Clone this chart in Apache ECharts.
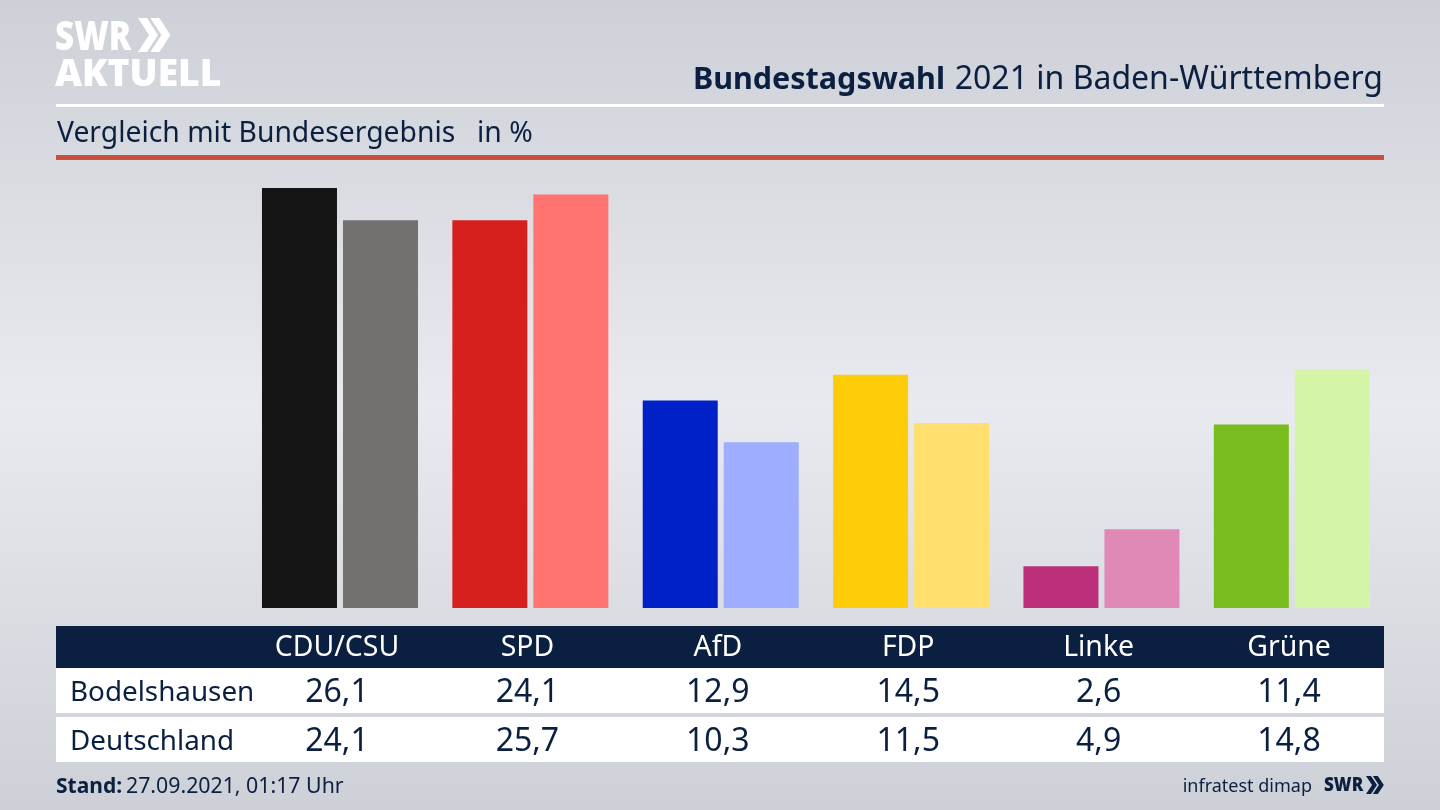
<!DOCTYPE html>
<html>
<head>
<meta charset="utf-8">
<title>Bundestagswahl 2021 in Baden-Württemberg</title>
<style>html,body{margin:0;padding:0;background:#dfe1e6}#main{width:1440px;height:810px}</style>
<script src="https://cdn.jsdelivr.net/npm/echarts@6/dist/echarts.min.js"></script>
</head>
<body>
<div id="main"></div>
<script>
var parties = ['CDU/CSU', 'SPD', 'AfD', 'FDP', 'Linke', 'Grüne'];
var bodelshausen = [26.1, 24.1, 12.9, 14.5, 2.6, 11.4];
var deutschland = [24.1, 25.7, 10.3, 11.5, 4.9, 14.8];
var colorsLocal = ['#141414', '#d61f1f', '#0020c8', '#ffcc0a', '#bc2f7a', '#78bc1e'];
var colorsFederal = ['#72716f', '#ff7370', '#9eadff', '#ffe06e', '#e088b6', '#d4f5a8'];

var navy = '#0b2040';
var font = '"Noto Sans", sans-serif';
var colX = 337, colStep = 190.4;

function txt(x, y, text, size, color, align, weight, scaleX) {
    return {
        type: 'text', x: x, y: y, z: 10, scaleX: scaleX || 1,
        style: {
            text: text, fill: color, font: (weight || 'normal') + ' ' + size + 'px ' + font,
            textAlign: align || 'left', textVerticalAlign: 'middle'
        }
    };
}
function box(x, y, w, h, color) {
    return { type: 'rect', z: 5, shape: { x: x, y: y, width: w, height: h }, style: { fill: color } };
}
function comma(v) { return v.toFixed(1).replace('.', ','); }
function chevrons(x, y, w, h, color) {
    // zwei Pfeile vom SWR-Logo
    var out = [];
    var t = w * 0.45;
    [0, w * 0.62].forEach(function (dx) {
        out.push({
            type: 'polygon', z: 10,
            shape: { points: [[x + dx, y], [x + dx + t, y], [x + dx + w, y + h / 2], [x + dx + t, y + h], [x + dx, y + h], [x + dx + w - t, y + h / 2]] },
            style: { fill: color }
        });
    });
    return out;
}

var graphics = [
    box(56, 104, 1328, 3, '#ffffff'),
    box(56, 155, 1328, 5, '#c8503c'),
    box(56, 626, 1328, 42, navy),
    box(56, 668, 1328, 45, '#ffffff'),
    box(56, 717, 1328, 45, '#ffffff'),
    txt(55, 38, 'SWR', 41, '#ffffff', 'left', '900', 0.81),
    txt(55, 75, 'AKTUELL', 37.2, '#ffffff', 'left', '900'),
    txt(1383, 80, '2021 in Baden-Württemberg', 32, navy, 'right'),
    txt(945, 80, 'Bundestagswahl', 30.5, navy, 'right', 'bold'),
    txt(57, 134, 'Vergleich mit Bundesergebnis', 28.3, navy),
    txt(477, 134, 'in %', 28.3, navy),
    txt(70, 693, 'Bodelshausen', 27.8, navy),
    txt(70, 742, 'Deutschland', 27.8, navy),
    txt(56, 787, 'Stand:', 21, navy, 'left', 'bold'),
    txt(126, 787, '27.09.2021, 01:17 Uhr', 21.3, navy),
    txt(1312, 787, 'infratest dimap', 18, navy, 'right'),
    txt(1324, 786, 'SWR', 19, navy, 'left', '900', 0.9)
].concat(chevrons(138, 18, 20, 34, '#ffffff'), chevrons(1366, 776, 11, 18, navy));

parties.forEach(function (name, i) {
    var x = colX + i * colStep;
    graphics.push(txt(x, 648, name, 28.4, '#ffffff', 'center'));
    graphics.push(txt(x, 693, comma(bodelshausen[i]), 32, navy, 'center'));
    graphics.push(txt(x, 742, comma(deutschland[i]), 32, navy, 'center'));
});

function itemsOf(values, colors) {
    return values.map(function (v, i) {
        return { value: v, itemStyle: { color: colors[i] } };
    });
}

var myChart = echarts.init(document.getElementById('main'));
var option = {
    animation: false,
    backgroundColor: new echarts.graphic.LinearGradient(0, 0, 0, 1, [
        { offset: 0, color: '#cdd0d7' },
        { offset: 0.5, color: '#e9eaef' },
        { offset: 1, color: '#cdd0d7' }
    ]),
    grid: { left: 244.8, right: 53, top: 173.5, bottom: 202 },
    xAxis: { type: 'category', data: parties, show: false },
    yAxis: { type: 'value', min: 0, max: 27, show: false },
    series: [
        { name: 'Bodelshausen', type: 'bar', barWidth: 75, barGap: '8%', data: itemsOf(bodelshausen, colorsLocal) },
        { name: 'Deutschland', type: 'bar', barWidth: 75, barGap: '8%', data: itemsOf(deutschland, colorsFederal) }
    ],
    graphic: graphics
};
myChart.setOption(option);
</script>
</body>
</html>
